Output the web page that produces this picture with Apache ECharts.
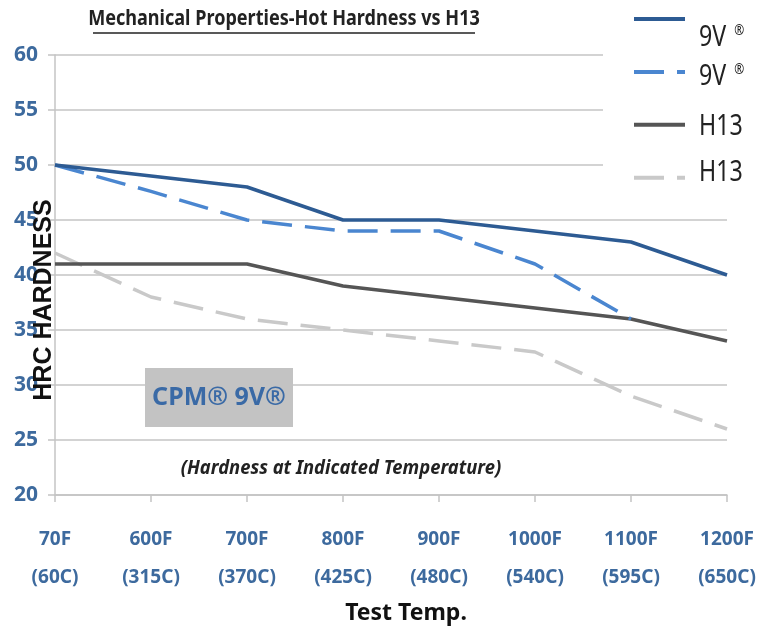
<!DOCTYPE html>
<html>
<head>
<meta charset="utf-8">
<script src="https://cdn.jsdelivr.net/npm/echarts@6/dist/echarts.min.js"></script>
<style>
  html, body { margin: 0; padding: 0; background: #fff; }
  #chart { width: 758px; height: 630px; }
</style>
</head>
<body>
<div id="chart"></div>
<script>
// temperatures on the x axis
const categories = ['70F\n(60C)', '600F\n(315C)', '700F\n(370C)', '800F\n(425C)',
  '900F\n(480C)', '1000F\n(540C)', '1100F\n(595C)', '1200F\n(650C)'];
// hardness values (HRC)
const nineVSolid = [50, 49, 48, 45, 45, 44, 43, 40];
const nineVDashed = [50, 47.6, 45, 44, 44, 41, 36, null];
const h13Solid = [41, 41, 41, 39, 38, 37, 36, 34];
const h13Dashed = [42, 38, 36, 35, 34, 33, 29, 26];
const yTicks = { min: 20, max: 60, step: 5 };
// legend labels, in series order (two series share a name in the picture)
const legendLabels = ['9V', '9V', 'H13', 'H13'];
const legendMark = [true, true, false, false];

const font = "'Noto Sans', sans-serif";
const labelBlue = '#3d6a9e';
const gridGray = '#c4c4c4';

const chartDom = document.getElementById('chart');
const myChart = echarts.init(chartDom);

// legend texts are placed by hand (Excel put them a bit off the icons)
const legendTextY = [38, 77, 127, 173];
const legendGraphics = legendLabels.map(function (txt, i) {
  return {
    type: 'text', x: 699, y: legendTextY[i], scaleX: 0.8, z: 20,
    style: {
      text: legendMark[i] ? '{t|' + txt + '}{r|®}' : '{t|' + txt + '}',
      fill: '#222', verticalAlign: 'middle', align: 'left',
      rich: {
        t: { fontFamily: font, fontSize: 29, fill: '#222' },
        r: { fontFamily: font, fontSize: 15, fill: '#222', verticalAlign: 'top', padding: [0, 0, 14, 10] }
      }
    }
  };
});

const option = {
  animation: false,
  backgroundColor: '#fff',
  grid: { left: 55, right: 31, top: 55, bottom: 135, outerBoundsMode: 'none' },
  legend: {
    orient: 'vertical',
    left: 603,
    top: 0,
    padding: [12, 90, 8, 29],
    backgroundColor: '#fff',
    itemWidth: 51,
    itemHeight: 14,
    itemGap: 40.3,
    itemStyle: { opacity: 0 },
    lineStyle: { width: 4 },
    data: ['s1', 's2', 's3', 's4'],
    formatter: function () { return ''; },
    textStyle: { fontSize: 8 }
  },
  xAxis: {
    type: 'category',
    data: categories,
    boundaryGap: false,
    axisLine: { lineStyle: { color: gridGray, width: 1.5 } },
    axisTick: { show: true, length: 7, lineStyle: { color: gridGray, width: 1.5 } },
    axisLabel: {
      interval: 0,
      margin: 26,
      color: labelBlue,
      fontFamily: font,
      fontWeight: 'bold',
      fontSize: 19,
      lineHeight: 38
    },
    name: 'Test Temp.',
    nameLocation: 'middle',
    nameGap: 106,
    nameTextStyle: {
      color: '#111',
      fontFamily: font,
      fontWeight: 'bold',
      fontSize: 23,
      padding: [0, 0, 0, 30]
    }
  },
  yAxis: {
    type: 'value',
    min: yTicks.min,
    max: yTicks.max,
    interval: yTicks.step,
    axisLine: { show: true, lineStyle: { color: gridGray, width: 1.5 } },
    axisTick: { show: true, length: 7, lineStyle: { color: gridGray, width: 1.5 } },
    axisLabel: {
      margin: 17,
      color: labelBlue,
      fontFamily: font,
      fontWeight: 'bold',
      fontSize: 21
    },
    splitLine: { lineStyle: { color: gridGray, width: 1.5 } }
  },
  series: [
    {
      name: 's1', type: 'line', data: nineVSolid, symbol: 'none', z: 5,
      lineStyle: { color: '#2d5b93', width: 3.5 }, itemStyle: { color: '#2d5b93' }
    },
    {
      name: 's2', type: 'line', data: nineVDashed, symbol: 'none', z: 4,
      lineStyle: { color: '#4a86d0', width: 3.5, type: [30, 13] }, itemStyle: { color: '#4a86d0' }
    },
    {
      name: 's3', type: 'line', data: h13Solid, symbol: 'none', z: 3,
      lineStyle: { color: '#555', width: 3.5 }, itemStyle: { color: '#555' }
    },
    {
      name: 's4', type: 'line', data: h13Dashed, symbol: 'none', z: 2,
      lineStyle: { color: '#c9c9c9', width: 3.5, type: [30, 13] }, itemStyle: { color: '#c9c9c9' }
    }
  ],
  graphic: [
    {
      type: 'text', x: 284, y: 19, scaleX: 0.86, z: 10,
      style: {
        text: 'Mechanical Properties-Hot Hardness vs H13',
        font: "bold 21px 'Noto Sans', sans-serif",
        fill: '#222', align: 'center', verticalAlign: 'middle'
      }
    },
    {
      type: 'line', z: 10,
      shape: { x1: 93, y1: 33, x2: 475, y2: 33 },
      style: { stroke: '#222', lineWidth: 1.5 }
    },
    {
      type: 'text', x: 44, y: 300, rotation: Math.PI / 2, z: 10,
      style: {
        text: 'HRC HARDNESS',
        font: "bold 25px 'Liberation Sans', Arial, sans-serif",
        fill: '#111', align: 'center', verticalAlign: 'middle'
      }
    },
    {
      type: 'rect', z: 10,
      shape: { x: 145, y: 368, width: 148, height: 59 },
      style: { fill: '#c3c3c3' }
    },
    {
      type: 'text', x: 219, y: 398, z: 11,
      style: {
        text: 'CPM® 9V®',
        font: "bold 25px 'Noto Sans', sans-serif",
        fill: '#3a6aa6', align: 'center', verticalAlign: 'middle'
      }
    },
    {
      type: 'text', x: 341, y: 468, scaleX: 0.92, z: 10,
      style: {
        text: '(Hardness at Indicated Temperature)',
        font: "italic bold 20px 'Noto Sans', sans-serif",
        fill: '#222', align: 'center', verticalAlign: 'middle'
      }
    }
  ].concat(legendGraphics)
};

option && myChart.setOption(option);
</script>
</body>
</html>
